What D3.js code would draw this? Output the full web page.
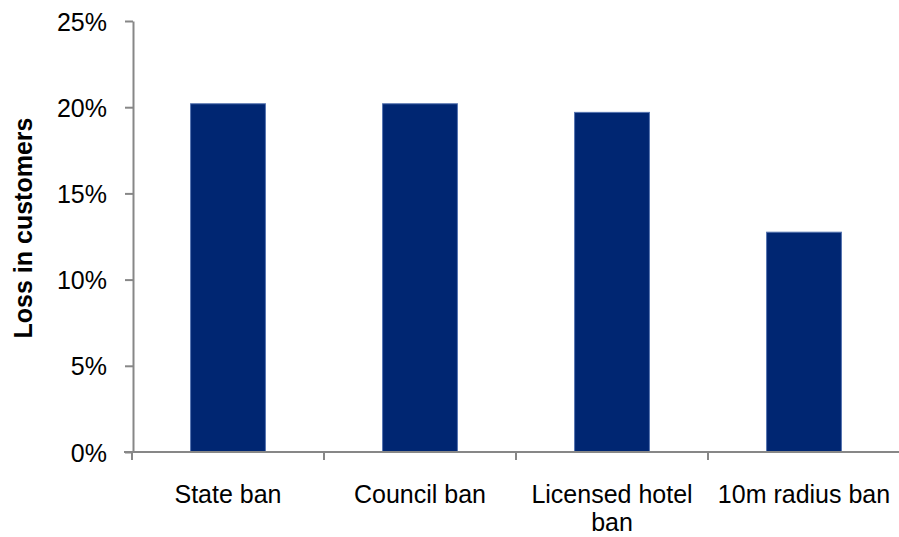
<!DOCTYPE html>
<html>
<head>
<meta charset="utf-8">
<script src="https://cdn.jsdelivr.net/npm/d3@7"></script>
<style>
  html, body { margin: 0; padding: 0; background: #fff; }
  svg { display: block; font-family: "Liberation Sans", Arial, Helvetica, sans-serif; }
</style>
</head>
<body>
<svg id="chart" width="899" height="537"></svg>
<script>
const categories = ["State ban", "Council ban", "Licensed hotel ban", "10m radius ban"];
const labelLines = [["State ban"], ["Council ban"], ["Licensed hotel", "ban"], ["10m radius ban"]];
const values = [0.202, 0.202, 0.197, 0.1275];
const yTicks = [0, 0.05, 0.10, 0.15, 0.20, 0.25];
const yTitle = "Loss in customers";

const svg = d3.select("#chart");
const axisColor = "#878787";

const x = d3.scaleBand()
  .domain(categories)
  .range([132, 900])
  .paddingInner(0.61)
  .paddingOuter(0.305);

const y = d3.scaleLinear().domain([0, 0.25]).range([452, 21]);

// Bars
svg.append("g").selectAll("rect")
  .data(categories)
  .join("rect")
  .attr("x", d => x(d))
  .attr("width", x.bandwidth())
  .attr("y", (d, i) => y(values[i]))
  .attr("height", (d, i) => y(0) - y(values[i]))
  .attr("fill", "#002672")
  .attr("stroke", "#5574b0")
  .attr("stroke-width", 1);

// Y axis
const yAxis = d3.axisLeft(y)
  .tickValues(yTicks)
  .tickFormat(d3.format(".0%"))
  .tickSize(8)
  .tickSizeOuter(0)
  .tickPadding(18);

const gy = svg.append("g").attr("transform", "translate(133,0)").call(yAxis);
gy.select(".domain").attr("stroke", axisColor).attr("stroke-width", 2);
gy.selectAll(".tick line").attr("stroke", axisColor).attr("stroke-width", 2);
gy.selectAll(".tick text")
  .attr("fill", "#000")
  .style("font-size", "25px")
  .attr("dy", "0.36em");

// X axis line
svg.append("line")
  .attr("x1", 124).attr("x2", 899)
  .attr("y1", y(0)).attr("y2", y(0))
  .attr("stroke", axisColor).attr("stroke-width", 2);

// Category boundary ticks
const boundaries = categories.map(c => x(c) - x.step() * x.paddingInner() / 2)
  .concat([x(categories[categories.length - 1]) + x.bandwidth() + x.step() * x.paddingInner() / 2]);
svg.append("g").selectAll("line")
  .data(boundaries)
  .join("line")
  .attr("x1", d => d).attr("x2", d => d)
  .attr("y1", y(0)).attr("y2", y(0) + 8)
  .attr("stroke", axisColor).attr("stroke-width", 2);

// Category labels (one text element per line)
const lineData = [];
categories.forEach((c, i) => {
  labelLines[i].forEach((line, j) => lineData.push({ c, line, j }));
});
svg.append("g").selectAll("text")
  .data(lineData)
  .join("text")
  .attr("x", d => x(d.c) + x.bandwidth() / 2)
  .attr("y", d => 503 + d.j * 28)
  .attr("text-anchor", "middle")
  .style("font-size", "25px")
  .attr("fill", "#000")
  .text(d => d.line);

// Y title
svg.append("text")
  .attr("transform", "translate(32,228) rotate(-90)")
  .attr("text-anchor", "middle")
  .style("font-size", "25px")
  .style("font-weight", "bold")
  .attr("fill", "#000")
  .text(yTitle);
</script>
</body>
</html>
